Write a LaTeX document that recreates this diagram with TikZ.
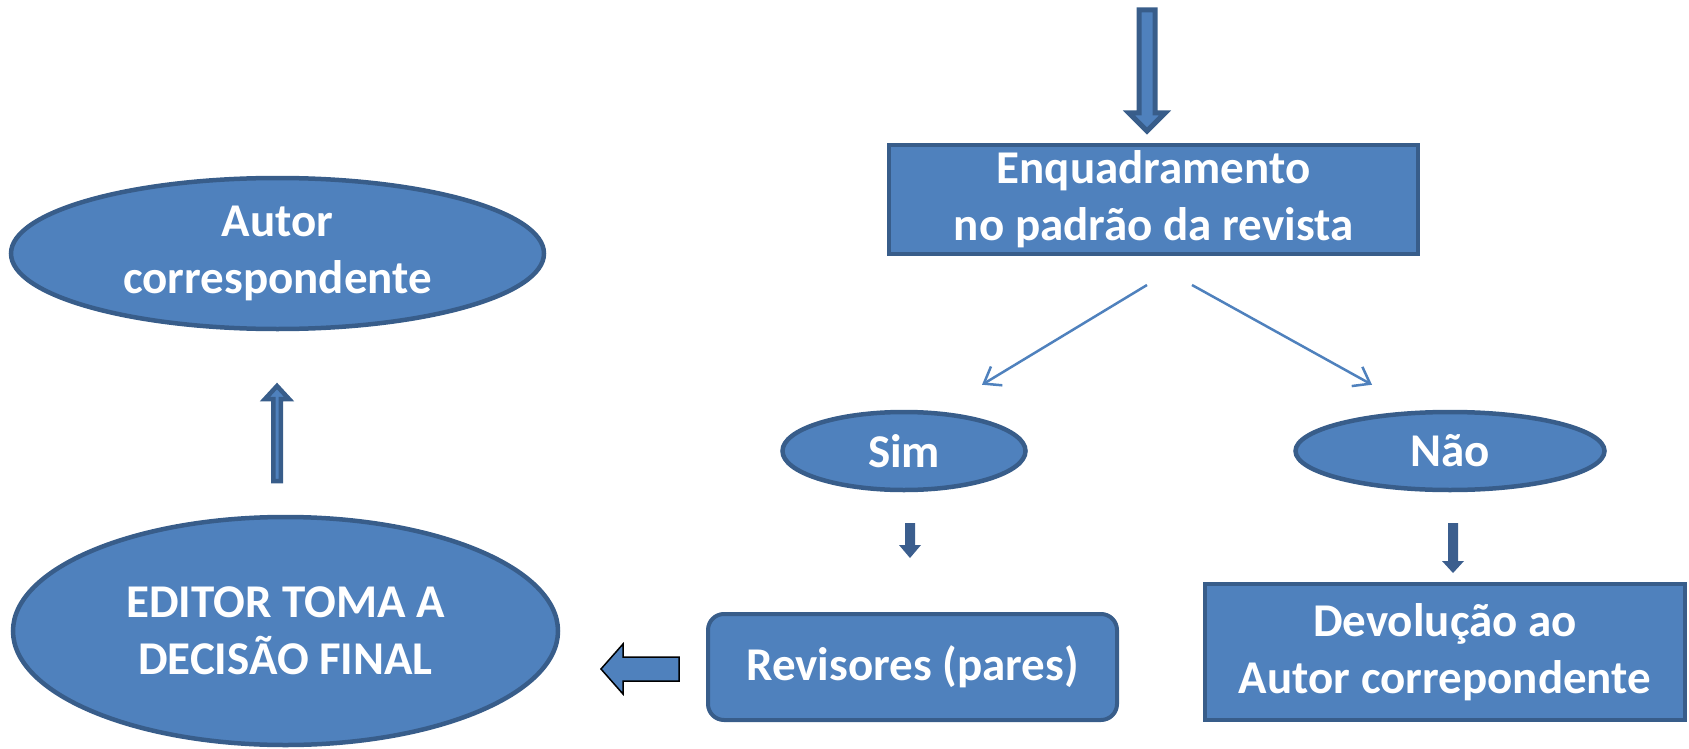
\documentclass[tikz,border=0pt]{standalone}
\usepackage{fontspec}
\setmainfont{Carlito}
\usetikzlibrary{shapes.geometric,arrows.meta,calc}
\definecolor{fillblue}{HTML}{4F81BD}
\definecolor{edgeblue}{HTML}{385D8A}
\definecolor{darkarrow}{HTML}{3B5E8E}
% vertical block arrow: x, ytail, yheadbase, ytip, halfshaft, halfhead, style
\newcommand{\vblock}[7]{\path[#7] (#1-#5,#2) -- (#1+#5,#2) -- (#1+#5,#3) -- (#1+#6,#3) -- (#1,#4) -- (#1-#6,#3) -- (#1-#5,#3) -- cycle;}
% horizontal block arrow: y, xtail, xheadbase, xtip, halfshaft, halfhead, style
\newcommand{\hblock}[7]{\path[#7] (#2,#1-#5) -- (#2,#1+#5) -- (#3,#1+#5) -- (#3,#1+#6) -- (#4,#1) -- (#3,#1-#6) -- (#3,#1-#5) -- cycle;}
\begin{document}
\begin{tikzpicture}[x=1pt,y=-1pt,
  txt/.style={text=white, font=\fontsize{47}{57}\selectfont\bfseries, align=center, inner sep=0pt},
  boxshape/.style={txt, rectangle, fill=fillblue, draw=edgeblue, line width=4pt},
  ovalshape/.style={txt, ellipse, fill=fillblue, draw=edgeblue, line width=4.5pt},
  thinarrow/.style={draw=fillblue, line width=2.5pt, -{Straight Barb[length=15pt,width=22pt]}}
]
\useasboundingbox (0,0) rectangle (1689,749);

% nodes
\node[boxshape, minimum width=529, minimum height=109] (enq) at (1153.5,199.5) {Enquadramento\\no padrão da revista};
\node[ovalshape, minimum width=243, minimum height=78] (sim) at (904,451) {Sim};
\node[ovalshape, minimum width=309, minimum height=78] (nao) at (1450,451) {Não};
\node[boxshape, rounded corners=16pt, minimum width=409, minimum height=106] (rev) at (912.5,667) {Revisores (pares)};
\node[boxshape, minimum width=480, minimum height=136] (dev) at (1445,652) {Devolução ao\\Autor correpondente};
\node[ovalshape, minimum width=545, minimum height=228] (editor) at (285.5,631) {EDITOR TOMA A\\DECISÃO FINAL};
\node[ovalshape, minimum width=533, minimum height=151] (autor) at (277.5,253.5) {Autor\\correspondente};

% thin connectors
\draw[thinarrow] ($(enq.south)+(-6.5,29)$) -- ($(sim.north)+(78,-25)$);
\draw[thinarrow] ($(enq.south)+(38.5,29)$) -- ($(nao.north)+(-78,-25)$);

% block arrows
\vblock{1147}{10}{113}{131}{8}{18}{fill=fillblue, draw=edgeblue, line width=5pt}
\vblock{910}{523}{545}{558}{5}{11}{fill=darkarrow}
\vblock{1453}{523}{561}{573}{5}{11}{fill=darkarrow}
\vblock{277}{481}{399}{386}{3.75}{12}{fill=fillblue, draw=edgeblue, line width=4.5pt}
\hblock{669}{679}{623}{601}{12}{25}{fill=fillblue, draw=black, line width=1.5pt}
\end{tikzpicture}
\end{document}
